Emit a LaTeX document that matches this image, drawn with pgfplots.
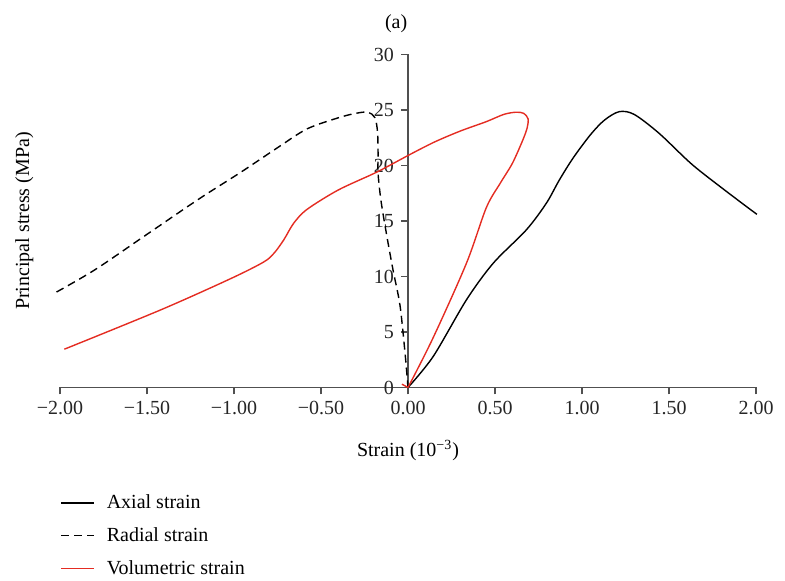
\documentclass[border=0pt]{standalone}
\usepackage{pgfplots}
\pgfplotsset{compat=1.18}
\usepackage{fontspec}
\setmainfont{Liberation Serif}
\definecolor{vred}{RGB}{228,44,34}
\definecolor{axgray}{RGB}{80,80,80}
\begin{document}
\begin{tikzpicture}
\begin{axis}[
  scale only axis, width=348pt, height=166.5pt,
  axis lines=middle, axis line style={-, axgray, line width=0.8pt},
  xmin=-2, xmax=2, ymin=0, ymax=30,
  clip=false,
  hide obscured x ticks=false, hide obscured y ticks=false,
  tick align=outside, major tick length=3.5pt,
  tick style={axgray, line width=0.7pt},
  xtick={-2,-1.5,-1,-0.5,0,0.5,1,1.5,2},
  xticklabels={−2.00,−1.50,−1.00,−0.50,0.00,0.50,1.00,1.50,2.00},
  ytick={0,5,10,15,20,25,30},
  /pgf/number format/assume math mode=true,
  every tick label/.append style={font=\fontsize{10}{12}\selectfont, text=black!85},
  xlabel={Strain (10\textsuperscript{−3})},
  xlabel style={at={(axis description cs:0.5,-0.2087)}, anchor=base, font=\fontsize{10}{12}\selectfont},
  ylabel={Principal stress (MPa)},
  ylabel style={at={(axis description cs:-0.0445,0.5)}, rotate=90, anchor=base, font=\fontsize{10}{12}\selectfont},
  title={(a)},
  title style={at={(axis description cs:0.483,1.043)}, anchor=base, font=\fontsize{10}{12}\selectfont},
  legend style={at={(axis description cs:0,-0.308)}, anchor=north west, draw=none, fill=none,
    inner sep=0pt, row sep=4pt, column sep=4pt, font=\fontsize{10}{12}\selectfont},
  legend cell align=left,
  legend image code/.code={\draw[#1] (0pt,0pt) -- (16.5pt,0pt);},
]
\addplot[black, line width=0.7pt, smooth] coordinates {
(0,0) (0.145,2.8) (0.336,7.9) (0.49,11.2) (0.68,14.2) (0.795,16.6) (0.87,18.7)
(0.95,20.7) (1.05,22.8) (1.13,24.1) (1.214,24.85) (1.30,24.6) (1.443,22.9)
(1.632,20.1) (1.827,17.7) (2.005,15.6)};
\addlegendentry{Axial strain}
\addplot[black, line width=0.7pt, dash pattern=on 4pt off 2.5pt, smooth] coordinates {
(-2.02,8.6) (-1.8,10.6) (-1.5,13.8) (-1.2,17.0) (-0.96,19.4) (-0.75,21.6) (-0.58,23.3)
(-0.4,24.3) (-0.3,24.7) (-0.23,24.8) (-0.19,24.3) (-0.175,23.0) (-0.172,21.0)
(-0.172,19.3) (-0.155,16.8) (-0.12,13.5) (-0.085,10.5) (-0.046,7.4) (-0.017,3.1) (0,0)};
\addlegendentry{Radial strain}
\addplot[vred, line width=0.7pt, smooth] coordinates {
(0,0) (0.145,4.5) (0.336,11.2) (0.45,16.2) (0.53,18.4) (0.6,20.2) (0.66,22.3)
(0.685,23.4) (0.69,24.2) (0.665,24.7) (0.62,24.8) (0.55,24.6) (0.45,23.95)
(0.3,23.1) (0.15,22.1) (0,20.9) (-0.18,19.4) (-0.4,17.8) (-0.58,16.05)
(-0.657,14.8) (-0.714,13.3) (-0.77,12.1) (-0.83,11.3) (-1.02,9.8) (-1.42,7.0) (-1.975,3.45)};
\addlegendentry{Volumetric strain}
\addplot[vred, line width=0.7pt, forget plot] coordinates {(-0.035,0.3) (0,0)};
\coordinate (sw) at (axis cs:-2,0);
\end{axis}
\pgfresetboundingbox
\path[use as bounding box] ([xshift=-30pt,yshift=-96.75pt]sw) rectangle ([xshift=362.5pt,yshift=193.75pt]sw);
\end{tikzpicture}
\end{document}
